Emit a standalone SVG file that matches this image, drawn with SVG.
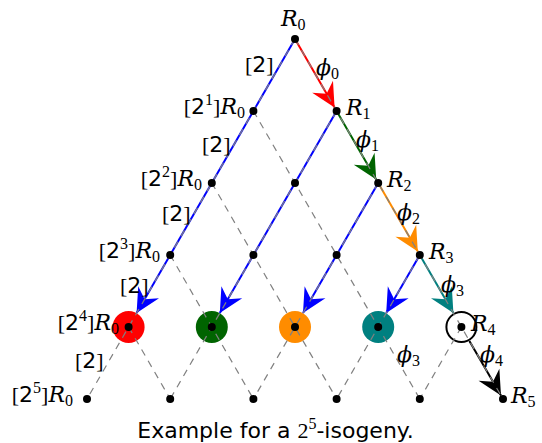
<svg xmlns="http://www.w3.org/2000/svg" width="542" height="443" viewBox="0 0 542 443">
<style>
  text { font-family: "Liberation Serif", "DejaVu Serif", serif; font-size: 22px; fill: #000; }
  .it { font-family: "DejaVu Serif", "Liberation Serif", serif; font-style: italic; font-size: 22px; }
  .sans { font-family: "DejaVu Sans", "Liberation Sans", sans-serif; }
  .sub { font-size: 16px; }
  .grid { fill: none; stroke: #808080; stroke-width: 1.2; stroke-dasharray: 7 6; }
  .arr { fill: none; stroke-width: 2; }
  .dot { fill: #000; }
</style>
<defs>
  <marker id="aRed" markerUnits="userSpaceOnUse" markerWidth="26" markerHeight="26" refX="24" refY="12" orient="auto" overflow="visible"><path d="M24,12 Q12,6 0,0 L8,12 L0,24 Q12,18 24,12 Z" fill="#ff0000"/></marker>
  <marker id="aGreen" markerUnits="userSpaceOnUse" markerWidth="26" markerHeight="26" refX="24" refY="12" orient="auto" overflow="visible"><path d="M24,12 Q12,6 0,0 L8,12 L0,24 Q12,18 24,12 Z" fill="#006400"/></marker>
  <marker id="aOrange" markerUnits="userSpaceOnUse" markerWidth="26" markerHeight="26" refX="24" refY="12" orient="auto" overflow="visible"><path d="M24,12 Q12,6 0,0 L8,12 L0,24 Q12,18 24,12 Z" fill="#ff8c00"/></marker>
  <marker id="aTeal" markerUnits="userSpaceOnUse" markerWidth="26" markerHeight="26" refX="24" refY="12" orient="auto" overflow="visible"><path d="M24,12 Q12,6 0,0 L8,12 L0,24 Q12,18 24,12 Z" fill="#008080"/></marker>
  <marker id="aBlack" markerUnits="userSpaceOnUse" markerWidth="26" markerHeight="26" refX="24" refY="12" orient="auto" overflow="visible"><path d="M24,12 Q12,6 0,0 L8,12 L0,24 Q12,18 24,12 Z" fill="#000000"/></marker>
  <marker id="aBlue" markerUnits="userSpaceOnUse" markerWidth="26" markerHeight="26" refX="24" refY="12" orient="auto" overflow="visible"><path d="M24,12 Q12,6 0,0 L8,12 L0,24 Q12,18 24,12 Z" fill="#0000ff"/></marker>
</defs>

<!-- coloured kernel circles -->
<g id="circles">
  <circle cx="128.6" cy="327" r="16" fill="#ff0000"/>
  <circle cx="211.8" cy="327" r="16" fill="#006400"/>
  <circle cx="295" cy="327" r="16" fill="#ff8c00"/>
  <circle cx="378.2" cy="327" r="16" fill="#008080"/>
  <circle cx="461.4" cy="327" r="15" fill="none" stroke="#000" stroke-width="2"/>
</g>

<g id="connectors">
  <!-- multiplication-by-2 arrows -->
  <line class="arr" stroke="#0000ff" x1="295" y1="39" x2="136.6" y2="313.1" marker-end="url(#aBlue)"/>
  <line class="arr" stroke="#0000ff" x1="336.6" y1="111" x2="219.8" y2="313.1" marker-end="url(#aBlue)"/>
  <line class="arr" stroke="#0000ff" x1="378.2" y1="183" x2="303" y2="313.1" marker-end="url(#aBlue)"/>
  <line class="arr" stroke="#0000ff" x1="419.8" y1="255" x2="386.2" y2="313.1" marker-end="url(#aBlue)"/>
  <!-- isogeny chain -->
  <line class="arr" stroke="#ff0000" x1="295" y1="39" x2="334.6" y2="107.5" marker-end="url(#aRed)"/>
  <line class="arr" stroke="#006400" x1="336.6" y1="111" x2="376.2" y2="179.5" marker-end="url(#aGreen)"/>
  <line class="arr" stroke="#ff8c00" x1="378.2" y1="183" x2="417.8" y2="251.5" marker-end="url(#aOrange)"/>
  <line class="arr" stroke="#008080" x1="419.8" y1="255" x2="453.4" y2="313.1" marker-end="url(#aTeal)"/>
  <line class="arr" stroke="#000000" x1="469.4" y1="340.9" x2="501" y2="395.5" marker-end="url(#aBlack)"/>
  <!-- dashed grid -->
  <path class="grid" d="M295,39 L87,399 M336.6,111 L170.2,399 M378.2,183 L253.4,399 M419.8,255 L336.6,399 M461.4,327 L419.8,399"/>
  <path class="grid" d="M295,39 L503,399 M253.4,111 L419.8,399 M211.8,183 L336.6,399 M170.2,255 L253.4,399 M128.6,327 L170.2,399"/>
</g>

<!-- nodes -->
<g id="n00"><circle class="dot" cx="295" cy="39" r="4"/><text x="281" y="26"><tspan class="it">R</tspan><tspan class="sub" dy="4">0</tspan></text></g>
<g id="n10"><circle class="dot" cx="253.4" cy="111" r="4"/><text x="245" y="114" text-anchor="end">[<tspan class="sans">2</tspan><tspan class="sub" dy="-9">1</tspan><tspan dy="9">]</tspan><tspan class="it">R</tspan><tspan class="sub" dy="4">0</tspan></text></g>
<g id="n11"><circle class="dot" cx="336.6" cy="111" r="4"/><text x="346" y="115"><tspan class="it">R</tspan><tspan class="sub" dy="4">1</tspan></text></g>
<g id="n20"><circle class="dot" cx="211.8" cy="183" r="4"/><text x="202" y="186" text-anchor="end">[<tspan class="sans">2</tspan><tspan class="sub" dy="-9">2</tspan><tspan dy="9">]</tspan><tspan class="it">R</tspan><tspan class="sub" dy="4">0</tspan></text></g>
<g id="n21"><circle class="dot" cx="295" cy="183" r="4"/></g>
<g id="n22"><circle class="dot" cx="378.2" cy="183" r="4"/><text x="387" y="187"><tspan class="it">R</tspan><tspan class="sub" dy="4">2</tspan></text></g>
<g id="n30"><circle class="dot" cx="170.2" cy="255" r="4"/><text x="160" y="258" text-anchor="end">[<tspan class="sans">2</tspan><tspan class="sub" dy="-9">3</tspan><tspan dy="9">]</tspan><tspan class="it">R</tspan><tspan class="sub" dy="4">0</tspan></text></g>
<g id="n31"><circle class="dot" cx="253.4" cy="255" r="4"/></g>
<g id="n32"><circle class="dot" cx="336.6" cy="255" r="4"/></g>
<g id="n33"><circle class="dot" cx="419.8" cy="255" r="4"/><text x="429" y="259"><tspan class="it">R</tspan><tspan class="sub" dy="4">3</tspan></text></g>
<g id="n40"><circle class="dot" cx="128.6" cy="327" r="4"/><text x="119" y="330" text-anchor="end">[<tspan class="sans">2</tspan><tspan class="sub" dy="-9">4</tspan><tspan dy="9">]</tspan><tspan class="it">R</tspan><tspan class="sub" dy="4">0</tspan></text></g>
<g id="n41"><circle class="dot" cx="211.8" cy="327" r="4"/></g>
<g id="n42"><circle class="dot" cx="295" cy="327" r="4"/></g>
<g id="n43"><circle class="dot" cx="378.2" cy="327" r="4"/></g>
<g id="n44"><circle class="dot" cx="461.4" cy="327" r="4"/><text x="471" y="331"><tspan class="it">R</tspan><tspan class="sub" dy="4">4</tspan></text></g>
<g id="n50"><circle class="dot" cx="87" cy="399" r="4"/><text x="73" y="402" text-anchor="end">[<tspan class="sans">2</tspan><tspan class="sub" dy="-9">5</tspan><tspan dy="9">]</tspan><tspan class="it">R</tspan><tspan class="sub" dy="4">0</tspan></text></g>
<g id="n51"><circle class="dot" cx="170.2" cy="399" r="4"/></g>
<g id="n52"><circle class="dot" cx="253.4" cy="399" r="4"/></g>
<g id="n53"><circle class="dot" cx="336.6" cy="399" r="4"/></g>
<g id="n54"><circle class="dot" cx="419.8" cy="399" r="4"/></g>
<g id="n55"><circle class="dot" cx="503" cy="399" r="4"/><text x="511" y="403"><tspan class="it">R</tspan><tspan class="sub" dy="4">5</tspan></text></g>

<!-- edge labels -->
<g id="labels">
  <text x="245" y="72">[<tspan class="sans">2</tspan>]</text>
  <text x="202" y="152">[<tspan class="sans">2</tspan>]</text>
  <text x="162" y="221">[<tspan class="sans">2</tspan>]</text>
  <text x="120" y="293">[<tspan class="sans">2</tspan>]</text>
  <text x="75" y="368">[<tspan class="sans">2</tspan>]</text>
  <text x="316" y="75"><tspan class="it">ϕ</tspan><tspan class="sub" dy="4">0</tspan></text>
  <text x="356" y="147"><tspan class="it">ϕ</tspan><tspan class="sub" dy="4">1</tspan></text>
  <text x="397" y="220"><tspan class="it">ϕ</tspan><tspan class="sub" dy="4">2</tspan></text>
  <text x="441" y="292"><tspan class="it">ϕ</tspan><tspan class="sub" dy="4">3</tspan></text>
  <text x="397" y="362"><tspan class="it">ϕ</tspan><tspan class="sub" dy="4">3</tspan></text>
  <text x="480" y="362"><tspan class="it">ϕ</tspan><tspan class="sub" dy="4">4</tspan></text>
</g>

<text x="275.5" y="438" text-anchor="middle" style="font-size:22px"><tspan class="sans">Example for a </tspan>2<tspan class="sub" dy="-9">5</tspan><tspan class="sans" dy="9">-isogeny.</tspan></text>
</svg>
